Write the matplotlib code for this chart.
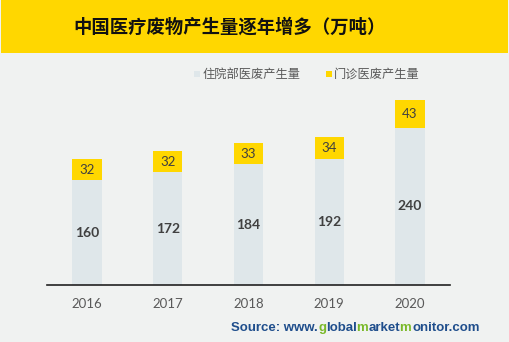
import matplotlib
matplotlib.use("Agg")
import matplotlib.pyplot as plt
from matplotlib.patches import Rectangle
from matplotlib.font_manager import FontProperties, findfont, get_font
from matplotlib import _text_helpers

# ==========================
# Data
# ==========================
years = ["2016", "2017", "2018", "2019", "2020"]
inpatient = [160, 172, 184, 192, 240]
outpatient = [32, 32, 33, 34, 43]

title = "中国医疗废物产生量逐年增多（万吨）"
legend_labels = ["住院部医废产生量", "门诊医废产生量"]
source_parts = ["Source: www.", "g", "lobal", "m", "arket", "m", "onitor.com"]

BG = "#F0F2F1"
GRAY_BAR = "#DFE7EA"
YELLOW = "#FFD700"
CJK = ["Noto Sans CJK SC", "DejaVu Sans"]
DPI = 100

fig = plt.figure(figsize=(5.10, 3.42), dpi=DPI, facecolor=BG)

# title band
fig.patches.append(Rectangle((1 / 510, 1 - 53 / 342), 507 / 510, 53 / 342,
                             transform=fig.transFigure, facecolor=YELLOW,
                             edgecolor="none", zorder=0))
fig.text(230 / 510, 1 - 27 / 342, title, family=CJK, fontsize=13.2,
         fontweight="heavy", color="#111111", ha="center", va="center")

# ==========================
# Bars
# ==========================
ax = fig.add_axes([47 / 510, (342 - 285) / 342, 403 / 510, 225 / 342])
ax.set_facecolor(BG)
x = range(len(years))
width = 0.36
ax.bar(x, inpatient, width=width, color=GRAY_BAR, zorder=2)
ax.bar(x, outpatient, width=width, bottom=inpatient, color=YELLOW, zorder=2)

for i in x:
    ax.text(i, inpatient[i] / 2, str(inpatient[i]), ha="center", va="center",
            family="Lato", fontweight="bold", fontsize=10, color="#404040")
    ax.text(i, inpatient[i] + outpatient[i] / 2, str(outpatient[i]),
            ha="center", va="center", family="Lato", fontsize=9.5,
            color="#404040")

ax.set_xlim(-0.495, 4.495)
ax.set_ylim(0, 343.5)
ax.set_xticks(list(x))
ax.set_xticklabels(years, family="Lato", fontsize=9.5, color="#595959")
ax.tick_params(axis="x", length=0, pad=9)
ax.set_yticks([])
for side in ["top", "right", "left"]:
    ax.spines[side].set_visible(False)
ax.spines["bottom"].set_color("#222222")
ax.spines["bottom"].set_linewidth(1.2)
ax.spines["bottom"].set_zorder(3)

# legend
fig.patches.append(Rectangle((194 / 510, 1 - 77 / 342), 6 / 510, 6 / 342,
                             transform=fig.transFigure, facecolor=GRAY_BAR,
                             edgecolor="none"))
fig.text(203 / 510, 1 - 74 / 342, legend_labels[0], family=CJK, fontsize=8.8,
         color="#595959", va="center")
fig.patches.append(Rectangle((326 / 510, 1 - 77 / 342), 6 / 510, 6 / 342,
                             transform=fig.transFigure, facecolor=YELLOW,
                             edgecolor="none"))
fig.text(334 / 510, 1 - 74 / 342, legend_labels[1], family=CJK, fontsize=8.8,
         color="#595959", va="center")

# ==========================
# Source line (blue text, some letters green)
# ==========================
blue = "#1F4E8C"
green = "#7AB929"
src_size = 9.5
prop = FontProperties(family="Liberation Sans", weight="bold", size=src_size)
font = get_font(findfont(prop))
font.set_size(src_size, DPI)

full_text = "".join(source_parts)
# pen position of every character in the full string (pixels)
xpos = [item.x for item in _text_helpers.layout(full_text, font)]
last = font.load_char(ord(full_text[-1]))
total_w = xpos[-1] + last.linearHoriAdvance / 65536

x_left = 480 - total_w
y_base = 1 - 331 / 342
k = 0
for n, part in enumerate(source_parts):
    # pieces starting with "m" render ~1px right of their pen position
    nudge = -1 if part.startswith("m") else 0
    fig.text((x_left + xpos[k] + nudge) / 510, y_base, part,
             fontproperties=prop, color=green if n % 2 == 1 else blue,
             ha="left", va="baseline")
    k += len(part)

fig.savefig("out.png", dpi=DPI, facecolor=BG)
